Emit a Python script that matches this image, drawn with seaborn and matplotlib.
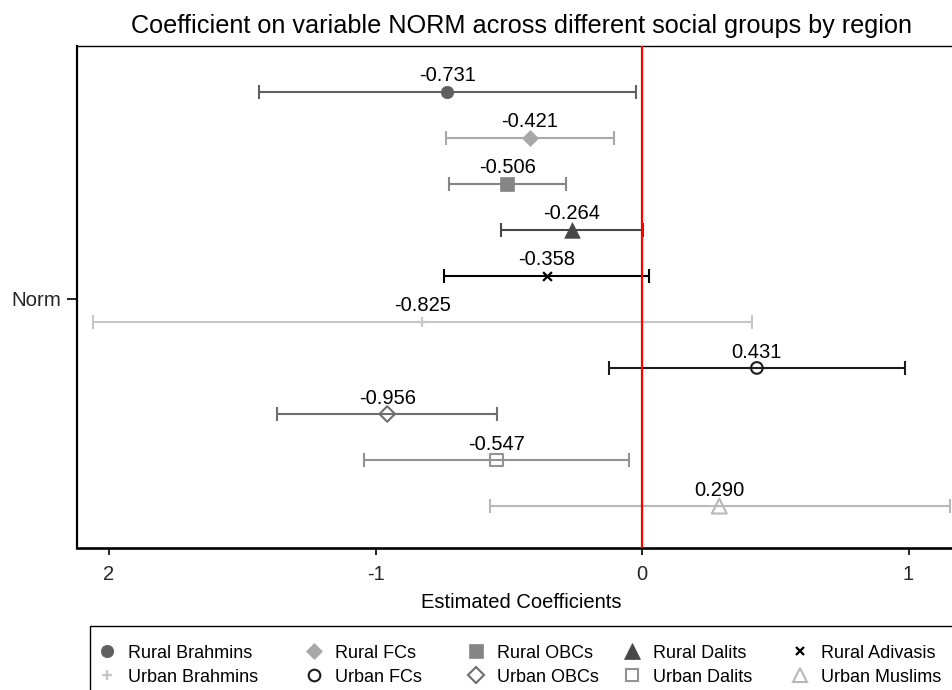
import numpy as np
import pandas as pd
import matplotlib
matplotlib.use("Agg")
import matplotlib.pyplot as plt
import seaborn as sns
from matplotlib.lines import Line2D
from matplotlib.patches import Rectangle

# ---------------- data ----------------
groups = ["Rural Brahmins", "Rural FCs", "Rural OBCs", "Rural Dalits", "Rural Adivasis",
          "Urban Brahmins", "Urban FCs", "Urban OBCs", "Urban Dalits", "Urban Muslims"]
coefs = [-0.731, -0.421, -0.506, -0.264, -0.358, -0.825, 0.431, -0.956, -0.547, 0.290]
ci_low = [-1.437, -0.735, -0.725, -0.530, -0.742, -2.060, -0.123, -1.368, -1.042, -0.572]
ci_high = [-0.023, -0.105, -0.286, 0.005, 0.027, 0.411, 0.988, -0.543, -0.050, 1.156]
xtick_values = [-2, -1, 0, 1]
xtick_labels = ["2", "-1", "0", "1"]
ytick_label = "Norm"

# ---------------- styles ----------------
colors = ["#5f5f5f", "#a8a8a8", "#858585", "#474747", "#000000",
          "#c6c6c6", "#1c1c1c", "#6e6e6e", "#939393", "#b8b8b8"]
markers = ["o", "D", "s", "^", "x", "+", "o", "D", "s", "^"]
filled = [True, True, True, True, None, None, False, False, False, False]
sizes = [80, 66, 100, 125, 40, 55, 70, 62, 85, 115]

sns.set_theme(style="white")
plt.rcParams["font.family"] = ["Liberation Sans", "DejaVu Sans"]

df = pd.DataFrame({"group": groups, "coef": coefs, "lo": ci_low, "hi": ci_high})
df["pos"] = np.arange(len(df))

fig = plt.figure(figsize=(9.53, 6.9), dpi=100)
W, H = 953, 690
ax_left, ax_right, ax_top, ax_bot = 77, 1000, 46, 548
ax = fig.add_axes([ax_left / W, 1 - ax_bot / H, (ax_right - ax_left) / W, (ax_bot - ax_top) / H])

# error bars
for i, r in df.iterrows():
    ax.errorbar(x=r["coef"], y=r["pos"], xerr=[[r["coef"] - r["lo"]], [r["hi"] - r["coef"]]],
                fmt="none", ecolor=colors[i], elinewidth=1.5, capsize=4.8, capthick=1.5, zorder=2)

# points
for i, r in df.iterrows():
    sub = df.iloc[[i]]
    kw = dict(marker=markers[i], s=sizes[i], zorder=3, ax=ax, legend=False)
    if filled[i] is True:
        sns.scatterplot(data=sub, x="coef", y="pos", color=colors[i], edgecolor=colors[i],
                        linewidth=0.5, **kw)
    elif filled[i] is False:
        sns.scatterplot(data=sub, x="coef", y="pos", color=colors[i], facecolor="none",
                        edgecolor=colors[i], linewidth=1.5, **kw)
    else:
        sns.scatterplot(data=sub, x="coef", y="pos", color=colors[i], linewidth=1.6, **kw)
    ax.annotate(f"{r['coef']:.3f}", (r["coef"], r["pos"]), xytext=(0, 7.5),
                textcoords="offset points", ha="center", va="baseline", fontsize=14.5,
                color="black", zorder=4)

ax.axvline(0, color="#ff0000", lw=1.6, zorder=5)

# axes limits so that data maps like the reference
px_per_unit = 266.5
x0_px = 642
ax.set_xlim((ax_left - x0_px) / px_per_unit, (ax_right - x0_px) / px_per_unit)
row0_px, row_step = 91.7, 46.04
ax.set_ylim(9 + (ax_bot - (row0_px + 9 * row_step)) / row_step, -(row0_px - ax_top) / row_step)

ax.set_xticks(xtick_values)
ax.set_xticklabels(xtick_labels, fontsize=14.5)
ax.set_yticks([4.5])
ax.set_yticklabels([ytick_label], fontsize=14.8)
ax.tick_params(axis="x", direction="out", length=5, width=1.2, color="black", pad=7,
               bottom=True, top=False)
ax.tick_params(axis="y", direction="out", length=7, width=1.2, color="black", pad=4,
               left=True, right=False)

ax.set_xlabel("Estimated Coefficients", fontsize=14.5, color="black")
ax.xaxis.set_label_coords((521 - ax_left) / (ax_right - ax_left), (ax_bot - 593) / (ax_bot - ax_top))
ax.set_ylabel("")

for side, lw in [("left", 1.6), ("bottom", 1.9), ("top", 1.0), ("right", 1.0)]:
    ax.spines[side].set_visible(True)
    ax.spines[side].set_color("black")
    ax.spines[side].set_linewidth(lw)

fig.text(521.5 / W, 1 - 33 / H,
         "Coefficient on variable NORM across different social groups by region",
         ha="center", va="baseline", fontsize=18.2, color="black")

# legend: framed 2 x 5 key, laid out like the reference
leg_left_px, leg_top_px = 90, 626
fig.add_artist(Rectangle((leg_left_px / W, -0.1), 1.2, (1 - leg_top_px / H) + 0.1,
                         transform=fig.transFigure, fill=True, facecolor="white",
                         edgecolor="black", lw=1.0, zorder=1))
col_px = [107, 314, 476, 632, 800]
row_px = [651, 675]
for i, g in enumerate(groups):
    row, col = divmod(i, 5)
    mx, my = col_px[col] / W, 1 - row_px[row] / H
    kw = dict(ls="none", marker=markers[i], color=colors[i], markersize=np.sqrt(sizes[i]),
              transform=fig.transFigure, zorder=2)
    if filled[i] is True:
        h = Line2D([mx], [my], markeredgewidth=0.5, **kw)
    elif filled[i] is False:
        h = Line2D([mx], [my], markerfacecolor="none", markeredgewidth=1.5, **kw)
    else:
        h = Line2D([mx], [my], markeredgewidth=1.6, **kw)
    fig.add_artist(h)
    fig.text((col_px[col] + 21) / W, my, g, ha="left", va="center_baseline", fontsize=13,
             color="black", zorder=2)

fig.savefig("out.png", dpi=100)
